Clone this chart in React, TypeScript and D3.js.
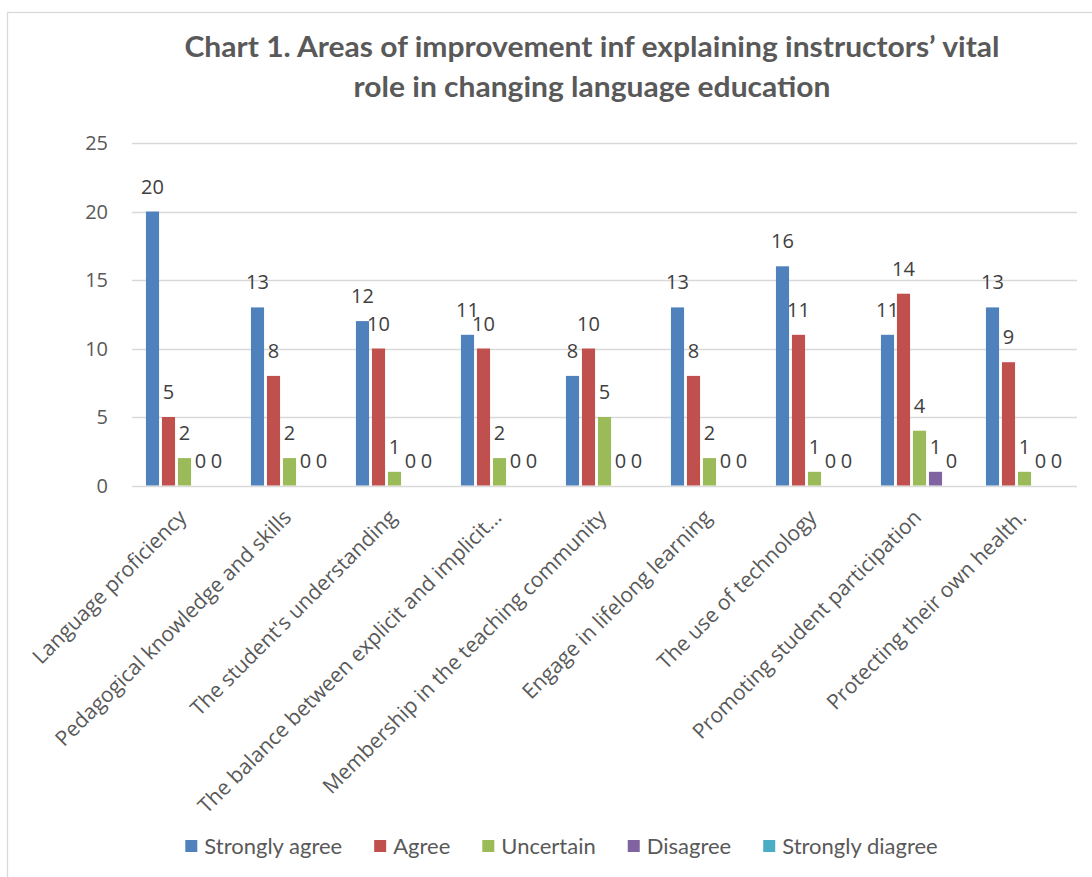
import React, { useEffect, useRef } from "react";
import * as d3 from "d3";

const categories = [
  "Language proficiency",
  "Pedagogical knowledge and skills",
  "The student's understanding",
  "The balance between explicit and implicit…",
  "Membership in the teaching community",
  "Engage in lifelong learning",
  "The use of technology",
  "Promoting student participation",
  "Protecting their own health.",
];

const seriesNames = ["Strongly agree", "Agree", "Uncertain", "Disagree", "Strongly diagree"];
const seriesColors = ["#4F81BD", "#C0504D", "#9BBB59", "#8064A2", "#4BACC6"];

const stronglyAgree = [20, 13, 12, 11, 8, 13, 16, 11, 13];
const agree = [5, 8, 10, 10, 10, 8, 11, 14, 9];
const uncertain = [2, 2, 1, 2, 5, 2, 1, 4, 1];
const disagree = [0, 0, 0, 0, 0, 0, 0, 1, 0];
const stronglyDisagree = [0, 0, 0, 0, 0, 0, 0, 0, 0];

const yTicks = [0, 5, 10, 15, 20, 25];

const titleLines = [
  "Chart 1. Areas of improvement inf explaining instructors’ vital",
  "role in changing language education",
];

const W = 1092;
const H = 877;

export default function App() {
  const ref = useRef<SVGSVGElement | null>(null);

  useEffect(() => {
    const svg = d3.select(ref.current);
    svg.selectAll("*").remove();

    const allSeries = [stronglyAgree, agree, uncertain, disagree, stronglyDisagree];

    const left = 132, right = 1077, top = 143, bottom = 485.5;

    // chart area border
    svg.append("rect")
      .attr("x", 7.5).attr("y", 12.5)
      .attr("width", 1200).attr("height", 1000)
      .attr("fill", "#fff").attr("stroke", "#D9D9D9").attr("stroke-width", 1.3);

    // title
    const titleFont = "Lato, 'Open Sans', sans-serif";
    const tLens = [815, 477];
    titleLines.forEach((line, i) => {
      svg.append("text")
        .attr("x", 592).attr("y", 57 + i * 40)
        .attr("text-anchor", "middle")
        .attr("font-family", titleFont)
        .attr("font-weight", "bold")
        .attr("font-size", 29)
        .attr("fill", "#595959")
        .attr("textLength", tLens[i])
        .attr("lengthAdjust", "spacingAndGlyphs")
        .text(line);
    });

    const y = d3.scaleLinear().domain([0, 25]).range([bottom, top]);
    const x0 = d3.scaleBand<string>().domain(categories).range([left, right]).padding(0);
    const groupW = 80;
    const x1 = d3.scaleBand<string>().domain(seriesNames).range([0, groupW]).padding(0);
    const barW = x1.bandwidth() * 0.82;
    const off = (x0.bandwidth() - groupW) / 2;

    // gridlines
    svg.append("g").selectAll("line").data(yTicks).join("line")
      .attr("x1", left).attr("x2", right)
      .attr("y1", d => Math.round(y(d)) + 0.5).attr("y2", d => Math.round(y(d)) + 0.5)
      .attr("stroke", "#D9D9D9").attr("stroke-width", 1.3);

    const numFont = "'Open Sans', sans-serif";
    svg.append("g").selectAll("text").data(yTicks).join("text")
      .attr("x", 108).attr("y", d => y(d))
      .attr("dy", "0.36em")
      .attr("text-anchor", "end")
      .attr("font-family", numFont).attr("font-size", 20)
      .attr("fill", "#595959")
      .text(d => String(d));

    // bars
    seriesNames.forEach((s, si) => {
      const vals = allSeries[si];
      const g = svg.append("g");
      g.selectAll("rect").data(vals).join("rect")
        .attr("x", (_, i) => (x0(categories[i]) as number) + off + (x1(s) as number) + (x1.bandwidth() - barW) / 2)
        .attr("y", d => y(d))
        .attr("width", barW)
        .attr("height", d => bottom - y(d))
        .attr("fill", seriesColors[si]);
      g.selectAll("text").data(vals).join("text")
        .attr("x", (_, i) => (x0(categories[i]) as number) + off + (x1(s) as number) + x1.bandwidth() / 2)
        .attr("y", d => y(d) - 18)
        .attr("text-anchor", "middle")
        .attr("font-family", numFont).attr("font-size", 20)
        .attr("fill", "#404040")
        .text(d => String(d));
    });

    // x labels
    svg.append("g").selectAll("text").data(categories).join("text")
      .attr("transform", d => `translate(${(x0(d) as number) + x0.bandwidth() / 2 - 2},${bottom + 28}) rotate(-45)`)
      .attr("text-anchor", "end")
      .attr("dy", "0.35em")
      .attr("font-family", numFont).attr("font-size", 21)
      .attr("fill", "#595959")
      .text(d => d);

    // legend
    const legFont = "Lato, 'Open Sans', sans-serif";
    const lg = svg.append("g");
    const items = seriesNames.map((name, i) => {
      const gi = lg.append("g");
      gi.append("rect").attr("x", 0).attr("y", -6).attr("width", 12).attr("height", 12).attr("fill", seriesColors[i]);
      const t = gi.append("text").attr("x", 19).attr("y", 0).attr("dy", "0.35em")
        .attr("font-family", legFont).attr("font-size", 22).attr("fill", "#595959").text(name);
      const w = (t.node() as SVGTextElement).getComputedTextLength();
      return { gi, w: 19 + w };
    });
    const gap = 32;
    const total = d3.sum(items, d => d.w) + gap * (items.length - 1);
    let cx = 561.5 - total / 2;
    items.forEach(it => {
      it.gi.attr("transform", `translate(${cx},846)`);
      cx += it.w + gap;
    });
  }, []);

  return (
    <svg
      ref={ref}
      width={W}
      height={H}
      style={{ position: "absolute", left: 0, top: 0, background: "#fff" }}
    />
  );
}
